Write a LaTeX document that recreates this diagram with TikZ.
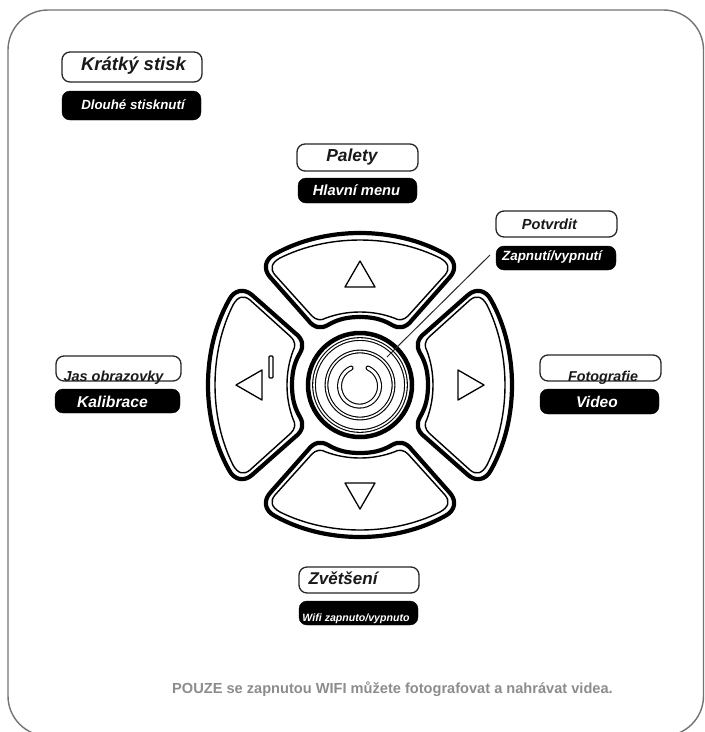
\documentclass[tikz,border=0pt]{standalone}
\usepackage{fontspec}
\setmainfont{Liberation Sans}
\tikzset{
  whitekey/.style={draw=black!85,line width=1.3pt,fill=white,rounded corners=8pt,inner sep=0pt},
  blackkey/.style={draw=black,fill=black,rounded corners=8pt,inner sep=0pt},
  darktext/.style={text=black!90,inner sep=0pt,font=\bfseries\itshape\fontsize{#1}{#1}\selectfont},
  lighttext/.style={text=white,inner sep=0pt,font=\bfseries\itshape\fontsize{#1}{#1}\selectfont},
  arrowkey/.pic={
    \draw[line width=4.2pt,line join=round] (-85,-131) .. controls (-60,-145) and (-30,-152) .. (0,-152)
      .. controls (30,-152) and (60,-145) .. (85,-131) .. controls (95,-126) and (97,-116) .. (90,-108)
      -- (52,-65) .. controls (46,-57) and (39,-56) .. (32,-60) .. controls (22,-66) and (12,-68) .. (0,-68)
      .. controls (-12,-68) and (-22,-66) .. (-32,-60) .. controls (-39,-56) and (-46,-57) .. (-52,-65)
      -- (-90,-108) .. controls (-97,-116) and (-95,-126) .. (-85,-131) -- cycle;
    \draw[line width=1.4pt] (-80,-127) .. controls (-56,-139) and (-28,-145) .. (0,-145)
      .. controls (28,-145) and (56,-139) .. (80,-127) .. controls (89,-122) and (90,-116) .. (85,-110)
      -- (48,-69) .. controls (44,-65) and (39,-64) .. (34,-67) .. controls (23,-71) and (12,-73) .. (0,-73)
      .. controls (-12,-73) and (-23,-71) .. (-34,-67) .. controls (-39,-64) and (-44,-65) .. (-48,-69)
      -- (-85,-110) .. controls (-90,-116) and (-89,-122) .. (-80,-127) -- cycle;
    \draw[line width=1.3pt,line join=round] (0,-124) -- (15,-98) -- (-15,-98) -- cycle;
  }
}
\begin{document}
\begin{tikzpicture}[x=1pt,y=-1pt]
\useasboundingbox (0,0) rectangle (705,732);
% frame
\draw[draw=black!55,line width=1.4pt,rounded corners=40pt] (8,10) rectangle (703.5,736);
% keypad
\coordinate (pad) at (360,385);
\foreach \a in {0,90,180,270}
  \pic[rotate=\a] at (pad) {arrowkey};
\draw[line width=4.5pt] (pad) circle (52);
\draw[line width=1.1pt,double distance=1.6pt] (pad) circle (46);
\draw[line width=1.1pt,double distance=1.6pt] (pad) circle (33.5);
\draw[line width=1.1pt,double distance=2.8pt,line cap=round] (368,368) arc (-65:245:20);
\draw[line width=1.1pt,rounded corners=1pt] (269,356) rectangle (273,378);
% short press / long press
\node[whitekey,minimum width=140,minimum height=30] (shortkey) at (132,67) {};
\node[darktext=18.5] (shortname) at (133.5,65.5) {Krátký stisk};
\node[blackkey,minimum width=139,minimum height=29] (longkey) at (131.5,105.5) {};
\node[lighttext=13.3] (longname) at (133,105) {Dlouhé stisknutí};
% up
\node[whitekey,minimum width=121,minimum height=27] (palette) at (357.5,157.5) {};
\node[darktext=17.4] (palettename) at (352,157) {Palety};
\node[blackkey,minimum width=119,minimum height=25] (menu) at (357.5,190.5) {};
\node[lighttext=14.7] (menuname) at (356.5,190) {Hlavní menu};
% power
\node[whitekey,minimum width=121,minimum height=26] (confirm) at (556.5,224) {};
\node[darktext=14.6] (confirmname) at (549.5,224) {Potvrdit};
\node[blackkey,minimum width=120,minimum height=24] (onoff) at (556,258) {};
\node[lighttext=13.4] (onoffname) at (552,257) {Zapnutí/vypnutí};
\coordinate (leadend) at (490,255);
\coordinate (leadstart) at (387,357);
\draw[line width=1pt,black!85] (leadstart) -- (leadend);
% left
\node[whitekey,minimum width=125,minimum height=25] (bright) at (118.5,368.5) {};
\node[darktext=14.5] (brightname) at (113.5,378) {Jas obrazovky};
\node[blackkey,minimum width=125,minimum height=24] (calib) at (117.5,401) {};
\node[lighttext=15.7] (calibname) at (112.5,401.5) {Kalibrace};
% right
\node[whitekey,minimum width=121,minimum height=26] (photo) at (600.5,368) {};
\node[darktext=14.3] (photoname) at (603,378) {Fotografie};
\node[blackkey,minimum width=119,minimum height=25] (video) at (599.5,401.5) {};
\node[lighttext=15.5] (videoname) at (597,402) {Video};
% down
\node[whitekey,minimum width=120,minimum height=26] (zoomkey) at (359,580) {};
\node[darktext=17] (zoomname) at (343,578) {Zvětšení};
\node[blackkey,minimum width=119,minimum height=24] (wifi) at (358.5,613) {};
\node[lighttext=10.6] (wifiname) at (356,618.5) {Wifi zapnuto/vypnuto};
% note
\node[text=black!45,inner sep=0pt,font=\bfseries\fontsize{14.6}{16}\selectfont] (note) at (392.5,689) {POUZE se zapnutou WIFI můžete fotografovat a nahrávat videa.};
\end{tikzpicture}
\end{document}
